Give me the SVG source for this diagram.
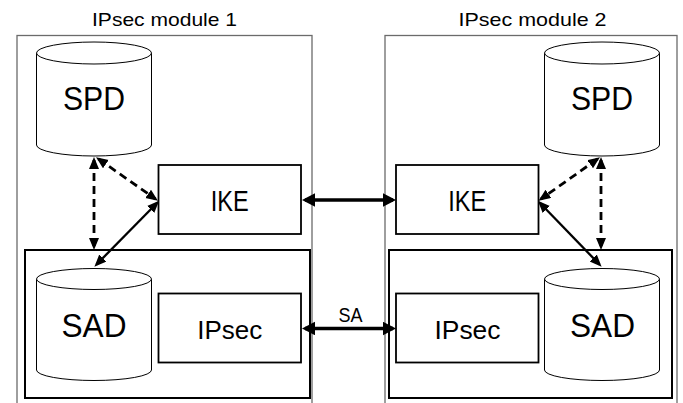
<svg xmlns="http://www.w3.org/2000/svg" width="683" height="403" viewBox="0 0 683 403">
<style>
  .module { fill: #ffffff; stroke: #6b6b6b; stroke-width: 1.3; }
  .inner { fill: none; stroke: #000000; stroke-width: 2; }
  .box { fill: #ffffff; stroke: #000000; stroke-width: 1.8; }
  .cyl { fill: #ffffff; stroke: #000000; stroke-width: 1; }
  text { font-family: "Liberation Sans", Arial, sans-serif; fill: #000000; text-anchor: middle; }
  .title { font-size: 18.5px; }
  .big { font-size: 33px; }
  .mid { font-size: 29px; }
  .ips { font-size: 25.5px; }
  .lbl { font-size: 20px; }
  .thick { stroke: #000000; stroke-width: 3.5; fill: none; }
  .thin { stroke: #000000; stroke-width: 2.3; fill: none; }
  .dash { stroke: #000000; stroke-width: 2.8; fill: none; stroke-dasharray: 8 5; }
</style>
<defs>
  <marker id="ahThick" markerUnits="userSpaceOnUse" markerWidth="14" markerHeight="14" refX="10" refY="6.75" orient="auto-start-reverse">
    <path d="M0,0 L13,6.75 L0,13.5 z" fill="#000000"/>
  </marker>
  <marker id="ahThin" markerUnits="userSpaceOnUse" markerWidth="13" markerHeight="11" refX="9" refY="5" orient="auto-start-reverse">
    <path d="M0,0 L12,5 L0,10 z" fill="#000000"/>
  </marker>
</defs>

<g id="module1">
  <rect class="module" x="17" y="35.5" width="295" height="380"/>
  <text class="title" x="164.5" y="26" textLength="145" lengthAdjust="spacingAndGlyphs">IPsec module 1</text>
</g>
<g id="module2">
  <rect class="module" x="385" y="35.5" width="292" height="380"/>
  <text class="title" x="532.5" y="26" textLength="148" lengthAdjust="spacingAndGlyphs">IPsec module 2</text>
</g>

<g id="sadgroup1">
  <rect class="inner" x="25" y="250" width="285" height="148"/>
</g>
<g id="sadgroup2">
  <rect class="inner" x="389" y="250" width="283" height="148"/>
</g>

<g id="spd1">
  <path class="cyl" d="M36.5,53 L36.5,145 A57.5,11 0 0 0 151.5,145 L151.5,53"/>
  <ellipse class="cyl" cx="94" cy="53" rx="57.5" ry="11"/>
  <text class="big" x="94" y="110" textLength="62" lengthAdjust="spacingAndGlyphs">SPD</text>
</g>
<g id="spd2">
  <path class="cyl" d="M544.5,53 L544.5,145 A57.5,11 0 0 0 659.5,145 L659.5,53"/>
  <ellipse class="cyl" cx="602" cy="53" rx="57.5" ry="11"/>
  <text class="big" x="602" y="110" textLength="62" lengthAdjust="spacingAndGlyphs">SPD</text>
</g>

<g id="ike1">
  <rect class="box" x="158.5" y="165" width="142.5" height="69"/>
  <text class="mid" x="229.75" y="210.5" textLength="38" lengthAdjust="spacingAndGlyphs">IKE</text>
</g>
<g id="ike2">
  <rect class="box" x="396" y="165" width="142.5" height="69"/>
  <text class="mid" x="467.25" y="210.5" textLength="38" lengthAdjust="spacingAndGlyphs">IKE</text>
</g>

<g id="sad1">
  <path class="cyl" d="M36.5,279 L36.5,370 A57.5,10.5 0 0 0 151.5,370 L151.5,279"/>
  <ellipse class="cyl" cx="94" cy="279" rx="57.5" ry="10.5"/>
  <text class="big" x="94" y="336.5" textLength="65" lengthAdjust="spacingAndGlyphs">SAD</text>
</g>
<g id="sad2">
  <path class="cyl" d="M544.5,279 L544.5,370 A57.5,10.5 0 0 0 659.5,370 L659.5,279"/>
  <ellipse class="cyl" cx="602" cy="279" rx="57.5" ry="10.5"/>
  <text class="big" x="602.5" y="336.5" textLength="65" lengthAdjust="spacingAndGlyphs">SAD</text>
</g>

<g id="ipsec1">
  <rect class="box" x="158.5" y="293.5" width="142.5" height="69"/>
  <text class="ips" x="229.75" y="338.5" textLength="65" lengthAdjust="spacingAndGlyphs">IPsec</text>
</g>
<g id="ipsec2">
  <rect class="box" x="396" y="293.5" width="142.5" height="69"/>
  <text class="ips" x="467.5" y="338.5" textLength="66" lengthAdjust="spacingAndGlyphs">IPsec</text>
</g>

<g id="connectors">
  <line class="thick" x1="305" y1="200" x2="393" y2="200" marker-start="url(#ahThick)" marker-end="url(#ahThick)"/>
  <line class="thick" x1="305" y1="328.5" x2="393" y2="328.5" marker-start="url(#ahThick)" marker-end="url(#ahThick)"/>
  <text class="lbl" x="350.5" y="321.5" textLength="24" lengthAdjust="spacingAndGlyphs">SA</text>

  <line class="dash" x1="94" y1="160" x2="94" y2="247" marker-start="url(#ahThin)" marker-end="url(#ahThin)"/>
  <line class="dash" x1="98.5" y1="159" x2="155.5" y2="199" marker-start="url(#ahThin)" marker-end="url(#ahThin)"/>
  <line class="thin" x1="96.5" y1="264.5" x2="157" y2="203" marker-start="url(#ahThin)" marker-end="url(#ahThin)"/>

  <line class="dash" x1="601" y1="160" x2="601" y2="247" marker-start="url(#ahThin)" marker-end="url(#ahThin)"/>
  <line class="dash" x1="597.5" y1="159" x2="541" y2="199" marker-start="url(#ahThin)" marker-end="url(#ahThin)"/>
  <line class="thin" x1="599.5" y1="264.5" x2="540" y2="203" marker-start="url(#ahThin)" marker-end="url(#ahThin)"/>
</g>
</svg>
